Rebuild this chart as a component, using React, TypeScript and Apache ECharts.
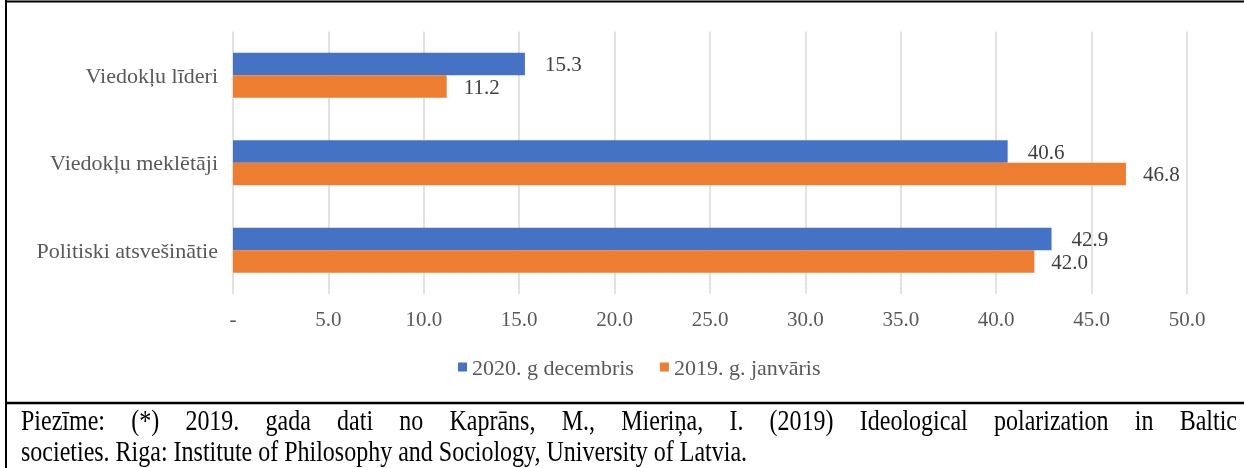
import React, { useEffect, useRef } from "react";
import * as echarts from "echarts";

const categories = ["Viedokļu līderi", "Viedokļu meklētāji", "Politiski atsvešinātie"];
const seriesNames = ["2020. g decembris", "2019. g. janvāris"];
const dec2020 = [15.3, 40.6, 42.9];
const jan2019 = [11.2, 46.8, 42.0];
const xTicks = { min: 0, max: 50, interval: 5 };
const noteLine1 = "Piezīme: (*) 2019. gada dati no Kaprāns, M., Mieriņa, I. (2019) Ideological polarization in Baltic";
const noteLine2 = "societies. Riga: Institute of Philosophy and Sociology, University of Latvia.";

const FONT = "'Liberation Serif', 'Times New Roman', serif";

export default function App() {
  const ref = useRef<HTMLDivElement>(null);
  useEffect(() => {
    if (!ref.current) return;
    const chart = echarts.init(ref.current, undefined, { renderer: "svg" });

    // justified first note line (condensed, as in the reference)
    const noteSize = 30;
    const sx = 0.8;
    const canvas = document.createElement("canvas");
    const ctx = canvas.getContext("2d")!;
    ctx.font = `${noteSize}px 'Liberation Serif'`;
    const words = noteLine1.split(" ");
    const left = 21, right = 1237;
    const widths = words.map((w) => ctx.measureText(w).width * sx);
    const total = widths.reduce((a, b) => a + b, 0);
    const gap = (right - left - total) / (words.length - 1);
    const wordEls: any[] = [];
    let x = left;
    words.forEach((w, i) => {
      wordEls.push({
        type: "text",
        x,
        y: 420,
        scaleX: sx,
        style: { text: w, font: `${noteSize}px ${FONT}`, fill: "#000", textVerticalAlign: "middle" },
      });
      x += widths[i] + gap;
    });

    const numLabel = (distance: number) => ({
      show: true,
      position: "right",
      distance,
      fontFamily: FONT,
      fontSize: 21,
      color: "#404040",
      formatter: (p: any) => p.value.toFixed(1),
    });

    chart.setOption({
      animation: false,
      textStyle: { fontFamily: FONT },
      grid: { left: 233, right: 57, top: 31.5, height: 262.5, containLabel: false },
      legend: {
        data: seriesNames,
        left: 453,
        top: 351,
        icon: "rect",
        itemWidth: 9,
        itemHeight: 9,
        itemGap: 26,
        textStyle: { fontFamily: FONT, fontSize: 22, color: "#595959" },
      },
      xAxis: {
        type: "value",
        min: xTicks.min,
        max: xTicks.max,
        interval: xTicks.interval,
        axisLine: { show: false },
        axisTick: { show: false },
        splitLine: { lineStyle: { color: "#d9d9d9", width: 1.5 } },
        axisLabel: {
          margin: 14,
          fontFamily: FONT,
          fontSize: 21,
          color: "#595959",
          formatter: (v: number) => (v === 0 ? "-" : v.toFixed(1)),
        },
      },
      yAxis: {
        type: "category",
        data: categories,
        inverse: true,
        axisLine: { show: false },
        axisTick: { show: false },
        axisLabel: { margin: 15, fontFamily: FONT, fontSize: 22, color: "#595959" },
      },
      series: [
        {
          name: seriesNames[0],
          type: "bar",
          data: dec2020,
          barWidth: 22.5,
          barGap: "0%",
          itemStyle: { color: "#4472C4" },
          label: numLabel(20),
        },
        {
          name: seriesNames[1],
          type: "bar",
          data: jan2019,
          barWidth: 22.5,
          barGap: "0%",
          itemStyle: { color: "#ED7D31" },
          label: numLabel(17),
        },
      ],
      graphic: [
        { type: "line", shape: { x1: 5, y1: 1.5, x2: 1244, y2: 1.5 }, style: { stroke: "#000", lineWidth: 2 } },
        { type: "line", shape: { x1: 6, y1: 0, x2: 6, y2: 468 }, style: { stroke: "#000", lineWidth: 2 } },
        { type: "line", shape: { x1: 5, y1: 403, x2: 1244, y2: 403 }, style: { stroke: "#000", lineWidth: 2.5 } },
        ...wordEls,
        {
          type: "text",
          x: left,
          y: 451,
          scaleX: sx,
          style: { text: noteLine2, font: `${noteSize}px ${FONT}`, fill: "#000", textVerticalAlign: "middle" },
        },
      ],
    });
    return () => chart.dispose();
  }, []);
  return <div ref={ref} style={{ position: "fixed", left: 0, top: 0, width: 1244, height: 468 }} />;
}
